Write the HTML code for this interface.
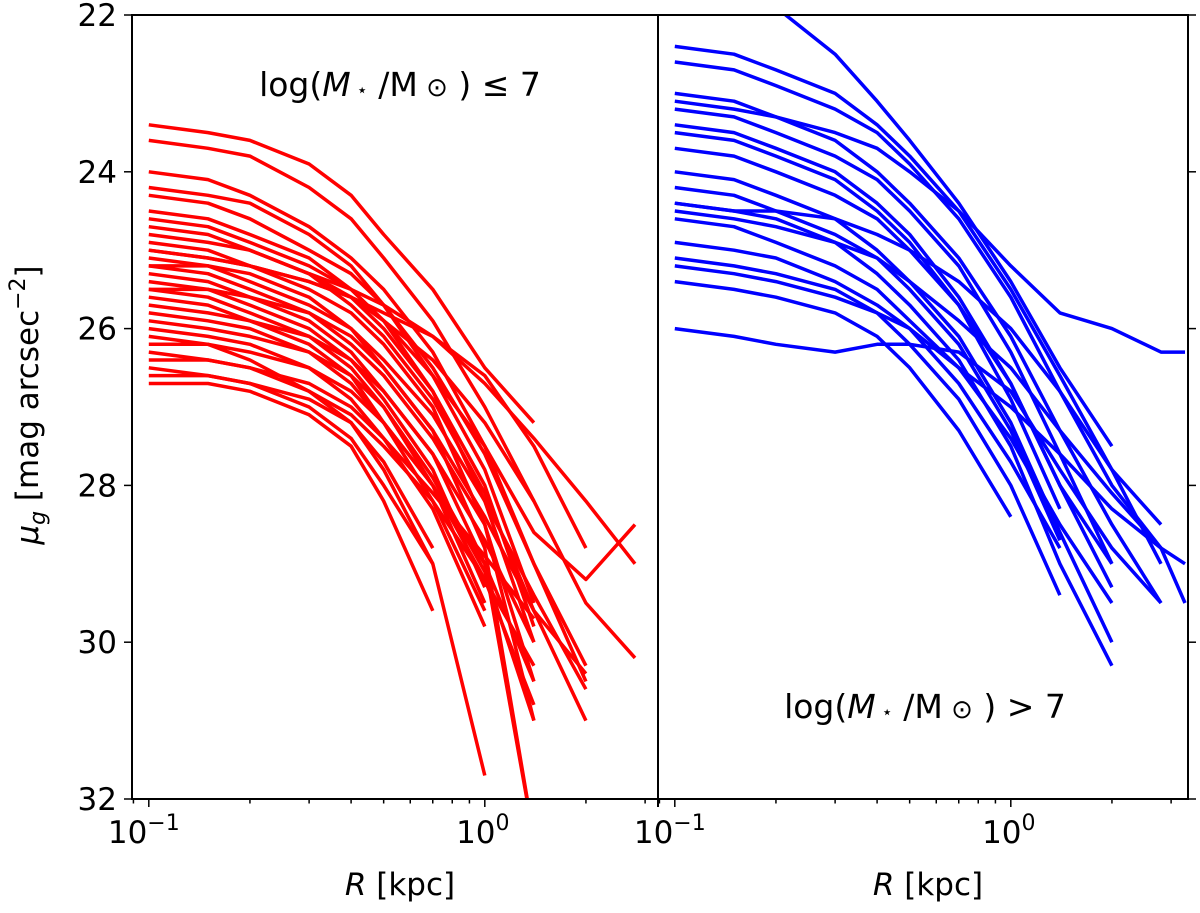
<!DOCTYPE html>
<html><head><meta charset="utf-8"><style>
body{margin:0;background:#fff;}
svg text{font-family:"DejaVu Sans","Liberation Sans",sans-serif;fill:#000;}
</style></head><body>
<svg id="chart" width="1200" height="908" viewBox="0 0 1200 908" xmlns="http://www.w3.org/2000/svg">
<g id="plot"></g>
</svg>
<script>
const rGrid = [0.1,0.15,0.2,0.3,0.4,0.5,0.7,1.0,1.4,2.0,2.8,3.3];
const redProfiles = [
[23.4,23.5,23.6,23.9,24.3,24.8,25.5,26.5,27.2],
[23.6,23.7,23.8,24.2,24.6,25.1,25.9,27.0,28.2],
[24.0,24.1,24.3,24.7,25.1,25.5,26.3,27.5,29.0,30.5],
[24.2,24.3,24.4,24.8,25.2,25.7,26.6,27.8,29.5],
[24.3,24.4,24.6,25.0,25.3,25.7,26.5,27.6,29.0,30.3],
[24.5,24.6,24.8,25.1,25.5,25.9,26.8,28.0,29.8],
[24.6,24.7,24.9,25.2,25.5,25.9,26.6,27.5,28.6,29.2,28.5],
[24.7,24.8,25.0,25.3,25.6,26.0,26.8,28.2,30.0],
[24.8,24.9,25.0,25.3,25.7,26.1,26.9,28.1,29.6,31.0],
[24.9,25.0,25.2,25.5,25.8,26.2,27.0,28.5,31.0],
[25.0,25.1,25.2,25.4,25.6,25.8,26.1,26.6,27.5,28.8],
[25.0,25.1,25.2,25.4,25.6,25.9,26.4,27.2,28.2,29.5,30.2],
[25.1,25.2,25.3,25.6,26.0,26.5,27.3,28.8,32.5],
[25.2,25.3,25.5,25.8,26.2,26.6,27.4,28.5,30.5],
[25.2,25.2,25.4,25.7,26.0,26.4,27.1,28.2,29.4,30.6],
[25.3,25.4,25.6,25.9,26.3,26.8,27.6,29.0,32.5],
[25.4,25.5,25.7,26.0,26.4,26.9,27.8,29.3],
[25.5,25.6,25.8,26.1,26.5,27.0,28.0,29.5],
[25.5,25.5,25.6,25.8,26.1,26.5,27.3,28.4,29.6,30.4],
[25.6,25.7,25.9,26.2,26.6,27.2,28.2,29.6],
[25.7,25.8,25.9,26.1,26.4,26.8,27.6,28.7,30.0],
[25.8,25.9,26.0,26.3,26.7,27.2,28.0,29.0,30.5],
[25.9,26.0,26.1,26.3,26.6,27.0,27.9,29.1,31.0],
[26.0,26.1,26.2,26.5,26.9,27.4,28.3,29.8],
[26.1,26.2,26.4,26.8,27.2,27.8,29.0,31.7],
[26.2,26.2,26.3,26.5,26.8,27.2,28.0,29.2,30.3],
[26.3,26.4,26.5,26.8,27.1,27.5,28.2,29.2,30.8],
[26.4,26.4,26.5,26.7,27.0,27.4,28.1,28.9,29.7],
[26.5,26.6,26.7,27.0,27.4,28.0,29.0],
[26.6,26.6,26.7,26.9,27.2,27.7,28.8],
[26.7,26.7,26.8,27.1,27.5,28.2,29.6],
[null,null,null,25.3,25.5,25.7,26.1,26.7,27.4,28.2,29.0]
];
const blueProfiles = [
[22.4,22.5,22.7,23.0,23.4,23.8,24.5,25.5,26.6,27.8,29.0],
[22.6,22.7,22.9,23.2,23.5,23.9,24.6,25.6,26.8,28.0,28.8,29.5],
[23.0,23.1,23.3,23.6,24.0,24.4,25.1,26.1,27.3,28.5,29.5],
[23.1,23.2,23.3,23.5,23.7,24.0,24.5,25.2,25.8,26.0,26.3,26.3],
[23.2,23.3,23.5,23.8,24.1,24.5,25.2,26.3,27.6,29.0],
[23.4,23.5,23.7,24.0,24.4,24.8,25.6,26.7,28.0,29.3],
[23.5,23.6,23.8,24.1,24.5,24.9,25.7,26.9,28.3],
[23.7,23.8,24.0,24.3,24.6,25.0,25.7,26.7,28.0,29.0],
[24.0,24.1,24.3,24.6,25.0,25.4,26.1,27.2,28.6,30.0],
[24.2,24.3,24.5,24.8,25.1,25.5,26.2,27.3,28.7],
[24.4,24.5,24.6,24.9,25.3,25.7,26.4,27.5,29.0,30.3],
[24.4,24.5,24.5,24.6,24.8,25.0,25.4,26.0,26.8,27.8,28.5],
[24.5,24.6,24.7,24.9,25.1,25.4,25.9,26.5,27.3,28.1,28.8,29.0],
[24.6,24.7,24.9,25.2,25.5,25.9,26.5,27.4,28.5,29.5],
[24.9,25.0,25.1,25.4,25.7,26.0,26.7,27.7,28.8],
[25.1,25.2,25.3,25.5,25.8,26.2,26.9,28.0,29.4],
[25.2,25.3,25.4,25.6,25.8,26.0,26.5,27.0,27.6,28.3,28.8],
[25.4,25.5,25.6,25.8,26.1,26.5,27.3,28.4],
[26.0,26.1,26.2,26.3,26.2,26.2,26.3,26.8,27.8,28.8,29.5],
[null,null,21.9,22.5,23.1,23.6,24.4,25.4,26.5,27.5]
];
const yTicks = [22,24,26,28,30,32];
const yTickLabels = ["22","24","26","28","30","32"];

const NS="http://www.w3.org/2000/svg";
const plotG=document.getElementById('plot');
const yTop=15,yBot=799,dec=336,lxmin=-1.05;
const panels=[{x0:132,x1:658,color:'#ff0000',data:redProfiles,name:'left'},{x0:658,x1:1188,color:'#0000ff',data:blueProfiles,name:'right'}];
function yS(v){return yTop+(v-22)/10*(yBot-yTop);}
function xS(p,r){return p.x0+(Math.log10(r)-lxmin)*dec;}
function mk(tag,attrs,parent){const e=document.createElementNS(NS,tag);for(const k in attrs)e.setAttribute(k,attrs[k]);(parent||plotG).appendChild(e);return e;}
const defs=mk('defs',{});
panels.forEach((p,i)=>{
  const cp=mk('clipPath',{id:'clip'+i},defs);
  mk('rect',{x:p.x0,y:yTop,width:p.x1-p.x0,height:yBot-yTop},cp);
  const lg=mk('g',{'clip-path':'url(#clip'+i+')'});
  
  
  p.data.forEach((prof,j)=>{
    const pts=[];
    prof.forEach((v,k)=>{if(v!==null)pts.push(xS(p,rGrid[k]).toFixed(1)+','+yS(v).toFixed(1));});
    const pl=mk('polyline',{points:pts.join(' '),fill:'none',stroke:p.color,'stroke-width':3.5,'stroke-linejoin':'round'},lg);
    
    
  });
  for(let d=-2;d<=0;d++){for(let m=1;m<10;m++){const r=m*Math.pow(10,d);const x=xS(p,r);if(x<p.x0-0.5||x>p.x1+0.5)continue;
    mk('line',{x1:x,x2:x,y1:yBot,y2:yBot+(m===1?8:4.5),stroke:'#000','stroke-width':1.5});}}
  [[0.1,'10','\u22121',-5],[1,'10','0',-2]].forEach(t=>{
    const tx=mk('text',{x:xS(p,t[0])+t[3],y:843,'font-size':31,'text-anchor':'middle'});
    
    
    tx.textContent=t[1];
    const s=mk('tspan',{'font-size':22,dy:-13},tx);s.textContent=t[2];
  });
  const xl=mk('text',{x:(p.x0+p.x1)/2+5,y:895,'font-size':31,'text-anchor':'middle'});
  
  
  const it=mk('tspan',{'font-style':'italic'},xl);it.textContent='R';
  const rest=mk('tspan',{},xl);rest.textContent=' [kpc]';
});
yTicks.forEach((v,i)=>{
  const y=yS(v);
  mk('line',{x1:124,x2:132,y1:y,y2:y,stroke:'#000','stroke-width':1.5});
  mk('line',{x1:1188,x2:1196,y1:y,y2:y,stroke:'#000','stroke-width':1.5});
  const t=mk('text',{x:117,y:y+11,'font-size':31,'text-anchor':'end'});
  
  
  t.textContent=yTickLabels[i];
});
const fr=mk('rect',{x:132,y:yTop,width:1188-132,height:yBot-yTop,fill:'none',stroke:'#000','stroke-width':2});


const dv=mk('line',{x1:658,x2:658,y1:yTop,y2:yBot+8,stroke:'#000','stroke-width':2});


const yt=mk('text',{transform:'translate(38,405) rotate(-90)','font-size':31,'text-anchor':'middle'});


let s1=mk('tspan',{'font-style':'italic'},yt);s1.textContent='\u03bc';
let s2=mk('tspan',{'font-style':'italic','font-size':22,dy:7},yt);s2.textContent='g';
let s3=mk('tspan',{dy:-7},yt);s3.textContent=' [mag arcsec';
let s4=mk('tspan',{'font-size':22,dy:-13},yt);s4.textContent='\u22122';
let s5=mk('tspan',{dy:13},yt);s5.textContent=']';
function ann(x,y,op,name){
  const t=mk('text',{x:x,y:y,'font-size':33,'text-anchor':'middle'});
  
  
  let a=mk('tspan',{},t);a.textContent='log(';
  let b=mk('tspan',{'font-style':'italic'},t);b.textContent='M';
  let c=mk('tspan',{'font-size':18},t);c.textContent=' \u22c6';
  let d=mk('tspan',{},t);d.textContent=' /M';
  let e=mk('tspan',{'font-size':26},t);e.textContent=' \u2299';
  let f=mk('tspan',{},t);f.textContent=' ) '+op+' 7';
}
ann(400,96,'\u2264','left-panel-mass-label');
ann(925,718,'>','right-panel-mass-label');
</script>
</body></html>
